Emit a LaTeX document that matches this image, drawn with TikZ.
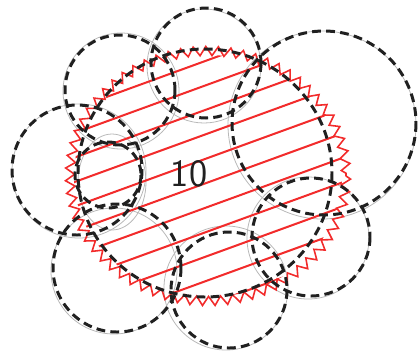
\documentclass[tikz,border=0pt]{standalone}
\usetikzlibrary{decorations.pathmorphing}
\definecolor{hatchred}{HTML}{F22B2B}
\definecolor{inkblack}{HTML}{202020}
\definecolor{pencil}{HTML}{B8B8B8}

\begin{document}
\begin{tikzpicture}[
    x=0.02cm, y=-0.02cm,
    cover/.style={draw=inkblack, line width=1.7pt, dash pattern=on 5pt off 3pt},
    guide/.style={draw=pencil, line width=0.45pt},
    hatch/.style={draw=hatchred, line width=1.15pt},
    rim/.style={draw=hatchred, line width=0.9pt, decorate,
                decoration={zigzag, segment length=7pt, amplitude=2.6pt}},
    count/.style={font=\sffamily\fontsize{22}{22}\selectfont, text=inkblack},
]
\useasboundingbox (0,0) rectangle (420,353);

% pencil guides under the covering discs
\draw[guide] (121,91) circle (58);
\draw[guide] (204,66) circle (57);
\draw[guide] (322,125) circle (94);
\draw[guide] (79,171) circle (67);
\draw[guide] (112,182) ellipse [x radius=34, y radius=48];
\draw[guide] (114,271) circle (63);
\draw[guide] (226,288) circle (62);
\draw[guide] (308,238) circle (61);

% hatched region
\begin{scope}
  \clip (208,176) ellipse [x radius=134, y radius=121];
  \begin{scope}[shift={(208,176)}, rotate=20]
    \foreach \k in {-7,...,7}
      \draw[hatch] (-220,\k*23+6) -- (220,\k*23+6);
  \end{scope}
\end{scope}
\draw[rim] (208,176) ellipse [x radius=138, y radius=125];

\node[count] (ten) at (189,174) {10};

% covering discs
\draw[cover] (205,173) ellipse [x radius=127, y radius=124];
\draw[cover] (120,90) circle (55);
\draw[cover] (206,63) circle (55);
\draw[cover] (324,123) circle (92);
\draw[cover] (77,170) circle (65);
\draw[cover] (108,175) circle (33);
\draw[cover] (117,268) circle (64);
\draw[cover] (229,290) circle (58);
\draw[cover] (311,237) circle (59);

\end{tikzpicture}
\end{document}
